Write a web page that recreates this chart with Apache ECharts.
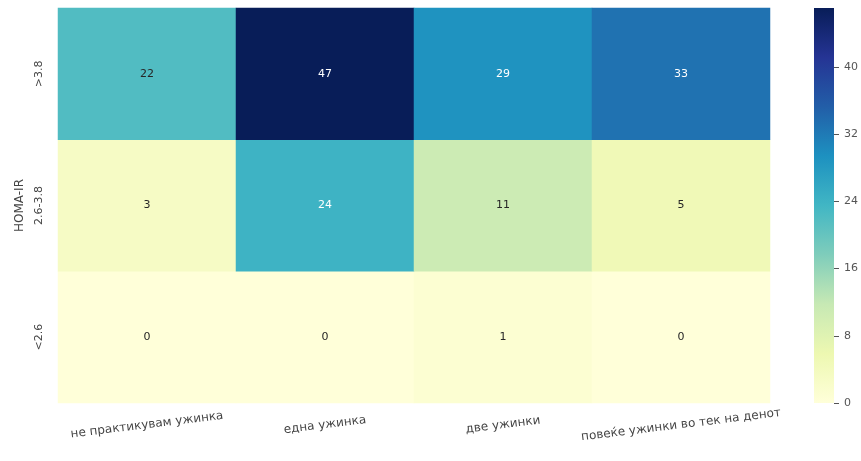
<!DOCTYPE html>
<html>
<head>
<meta charset="utf-8">
<script src="https://cdn.jsdelivr.net/npm/echarts@6/dist/echarts.min.js"></script>
<style>
  html, body { margin: 0; padding: 0; background: #fff; }
  #chart { width: 861px; height: 461px; }
</style>
</head>
<body>
<div id="chart"></div>
<script>
// Snack frequency categories (columns)
const snackCats = ['не практикувам ужинка', 'една ужинка', 'две ужинки', 'повеќе ужинки во тек на денот'];
// HOMA-IR groups, bottom to top
const homaCats = ['<2.6', '2.6-3.8', '>3.8'];
// Counts per HOMA-IR group, one array per row
const rowHigh = [22, 47, 29, 33];   // >3.8
const rowMid = [3, 24, 11, 5];      // 2.6-3.8
const rowLow = [0, 0, 1, 0];        // <2.6
// Colour bar tick step
const barStep = 8;

const rows = [rowLow, rowMid, rowHigh];
const vMax = Math.max(...rowHigh, ...rowMid, ...rowLow);

// YlGnBu palette
const ylgnbu = ['#ffffd9', '#edf8b1', '#c7e9b4', '#7fcdbb', '#41b6c4', '#1d91c0', '#225ea8', '#253494', '#081d58'];

const data = [];
rows.forEach((row, yi) => {
  row.forEach((v, xi) => {
    data.push({
      value: [xi, yi, v],
      label: { color: v > vMax * 0.5 ? '#ffffff' : '#262626' }
    });
  });
});

const font = 'DejaVu Sans, Liberation Sans, Arial, sans-serif';

// Colour bar geometry
const bar = { left: 814, top: 8, width: 20, height: 395 };

const chart = echarts.init(document.getElementById('chart'));
chart.setOption({
  backgroundColor: '#ffffff',
  animation: false,
  grid: [
    { left: 58, right: 91, top: 8, bottom: 58 },
    { left: bar.left, width: bar.width, top: bar.top, height: bar.height }
  ],
  xAxis: [
    {
      type: 'category', gridIndex: 0, data: snackCats,
      axisLine: { show: false }, axisTick: { show: false }, splitLine: { show: false },
      axisLabel: {
        rotate: 7, margin: 22, align: 'center', verticalAlign: 'middle',
        fontSize: 12, color: '#444', fontFamily: font
      }
    },
    { type: 'value', gridIndex: 1, show: false, min: 0, max: 1 }
  ],
  yAxis: [
    {
      type: 'category', gridIndex: 0, data: homaCats,
      name: 'HOMA-IR', nameLocation: 'middle', nameGap: 27, nameRotate: 90,
      nameTextStyle: { fontSize: 12, color: '#444', fontFamily: font },
      axisLine: { show: false }, axisTick: { show: false }, splitLine: { show: false },
      axisLabel: { rotate: 90, margin: 13, fontSize: 11, color: '#444', fontFamily: font }
    },
    {
      type: 'value', gridIndex: 1, position: 'right', min: 0, max: vMax, interval: barStep,
      axisLine: { show: false, onZero: false },
      axisTick: { show: true, length: 5, lineStyle: { color: '#555' } },
      splitLine: { show: false },
      axisLabel: {
        margin: 10, fontSize: 11, color: '#555', fontFamily: font,
        showMaxLabel: false,
        formatter: v => (v % barStep === 0 ? String(v) : '')
      }
    }
  ],
  visualMap: {
    show: false, type: 'continuous', min: 0, max: vMax,
    seriesIndex: 0, dimension: 2,
    inRange: { color: ylgnbu }
  },
  graphic: [
    {
      type: 'rect', z: 10,
      shape: { x: bar.left, y: bar.top, width: bar.width, height: bar.height },
      style: {
        fill: new echarts.graphic.LinearGradient(0, 1, 0, 0,
          ylgnbu.map((c, i) => ({ offset: i / (ylgnbu.length - 1), color: c })))
      }
    }
  ],
  series: [
    {
      type: 'heatmap', xAxisIndex: 0, yAxisIndex: 0, data: data,
      label: { show: true, fontSize: 11, fontFamily: font },
      itemStyle: { borderWidth: 0 },
      emphasis: { disabled: true }
    }
  ]
});
</script>
</body>
</html>
